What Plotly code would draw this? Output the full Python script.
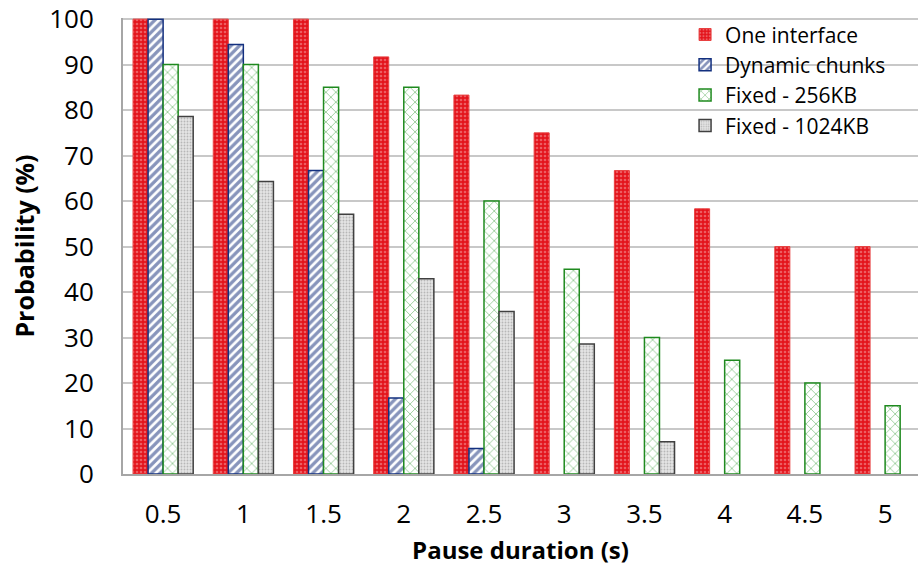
import plotly.graph_objects as go

categories = ["0.5", "1", "1.5", "2", "2.5", "3", "3.5", "4", "4.5", "5"]
one_interface = [100, 100, 100, 91.7, 83.3, 75, 66.7, 58.3, 50, 50]
dynamic_chunks = [100, 94.4, 66.7, 16.7, 5.6, 0, 0, 0, 0, 0]
fixed_256 = [90, 90, 85, 85, 60, 45, 30, 25, 20, 15]
fixed_1024 = [78.6, 64.3, 57.1, 42.9, 35.7, 28.6, 7.1, 0, 0, 0]
y_ticks = [0, 10, 20, 30, 40, 50, 60, 70, 80, 90, 100]

FONT = "Open Sans"


def edge(values, w):
    # no outline on empty (zero-height) bars
    return [w if v > 0 else 0 for v in values]


fig = go.Figure()
fig.add_trace(go.Bar(
    name="One interface", x=categories, y=one_interface,
    marker=dict(color="#E3141C", line=dict(color="#E84040", width=edge(one_interface, 1)),
                pattern=dict(shape=".", fillmode="overlay", bgcolor="#E3141C",
                             fgcolor="#F6A8A8", size=4, solidity=0.35)),
))
fig.add_trace(go.Bar(
    name="Dynamic chunks", x=categories, y=dynamic_chunks,
    marker=dict(color="white", line=dict(color="#13307F", width=edge(dynamic_chunks, 1.5)),
                pattern=dict(shape="/", fillmode="overlay", bgcolor="white",
                             fgcolor="#0F2A78", size=6, solidity=0.55)),
))
fig.add_trace(go.Bar(
    name="Fixed - 256KB", x=categories, y=fixed_256,
    marker=dict(color="white", line=dict(color="#1F8A1F", width=edge(fixed_256, 1.5)),
                pattern=dict(shape="x", fillmode="overlay", bgcolor="white",
                             fgcolor="#3A9E3A", size=7, solidity=0.25)),
))
fig.add_trace(go.Bar(
    name="Fixed - 1024KB", x=categories, y=fixed_1024,
    marker=dict(color="#D9D9D9", line=dict(color="#404040", width=edge(fixed_1024, 1.5)),
                pattern=dict(shape=".", fillmode="overlay", bgcolor="#E4E4E4",
                             fgcolor="#8A8A8A", size=3, solidity=0.3)),
))

fig.update_layout(
    width=918, height=572,
    margin=dict(l=123, r=0, t=18, b=98),
    paper_bgcolor="white", plot_bgcolor="white",
    barmode="group", bargap=0.25, bargroupgap=0,
    font=dict(family=FONT, color="black", size=25),
    legend=dict(x=0.707, y=1.008, xanchor="left", yanchor="top",
                bgcolor="rgba(0,0,0,0)", font=dict(size=21, family=FONT),
                itemwidth=30, tracegroupgap=0),
    showlegend=True,
)
fig.update_xaxes(
    type="category", range=[-0.5, 9.41],
    showline=True, linecolor="#A6A6A6", linewidth=2,
    ticks="outside", ticklen=16, tickcolor="rgba(0,0,0,0)",
    tickfont=dict(size=26, family=FONT),
    title=dict(text="<b>Pause duration (s)</b>", font=dict(size=24, family=FONT), standoff=12),
)
fig.update_yaxes(
    range=[0, 100.25], tickvals=y_ticks,
    showline=True, linecolor="#A6A6A6", linewidth=2,
    showgrid=True, gridcolor="#C8C8C8", gridwidth=2,
    ticks="outside", ticklen=22, tickcolor="rgba(0,0,0,0)",
    ticklabeloverflow="allow",
    tickfont=dict(size=26, family=FONT),
    title=dict(text="<b>Probability (%)</b>", font=dict(size=25, family=FONT), standoff=7),
    zeroline=False,
)

fig.write_html("out.html")
